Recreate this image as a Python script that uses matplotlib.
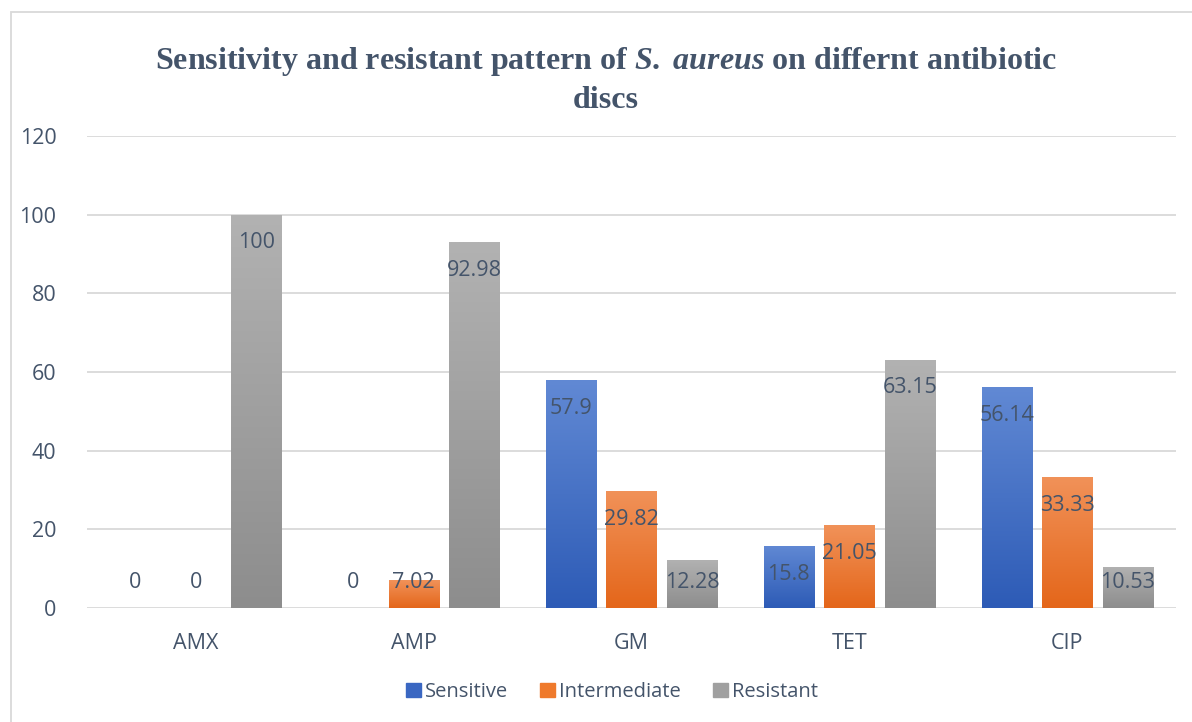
import numpy as np
import matplotlib
matplotlib.use("Agg")
import matplotlib.pyplot as plt
from matplotlib.patches import Rectangle
from matplotlib.colors import LinearSegmentedColormap

# Data: percentage of isolates per antibiotic disc
categories = ["AMX", "AMP", "GM", "TET", "CIP"]
sensitive = [0, 0, 57.9, 15.8, 56.14]
intermediate = [0, 7.02, 29.82, 21.05, 33.33]
resistant = [100, 92.98, 12.28, 63.15, 10.53]
series_names = ["Sensitive", "Intermediate", "Resistant"]
y_ticks = [0, 20, 40, 60, 80, 100, 120]

series = [sensitive, intermediate, resistant]
# (top colour, bottom colour) for the vertical gradient fill of each series
gradients = [("#6189d4", "#2d5bb6"), ("#f19259", "#e4661a"), ("#b2b2b2", "#8d8d8d")]
legend_colors = ["#3a67c2", "#ef7a2c", "#a0a0a0"]
text_color = "#44546a"

plt.rcParams["mathtext.fontset"] = "custom"
plt.rcParams["mathtext.it"] = "Liberation Serif:italic:bold"
plt.rcParams["mathtext.rm"] = "Liberation Serif:bold"

W, H = 1192, 722
fig = plt.figure(figsize=(W / 100, H / 100), dpi=100)

# light outer frame of the chart area
fig.patches.append(Rectangle((11 / W, -0.05), 1.2, (H - 12) / H + 0.05,
                             transform=fig.transFigure, fill=False,
                             edgecolor="#d9d9d9", linewidth=1.3))

ax = fig.add_axes([87 / W, 1 - 608 / H, (1176 - 87) / W, (608 - 136) / H])
ax.set_xlim(-0.5, len(categories) - 0.5)
ax.set_ylim(0, 120)
for s in ax.spines.values():
    s.set_visible(False)
ax.set_yticks(y_ticks)
ax.yaxis.grid(True, color="#d9d9d9", linewidth=1.3)
ax.set_axisbelow(True)
ax.tick_params(axis="both", length=0, labelsize=15.5, labelcolor=text_color)
ax.tick_params(axis="y", pad=22)
ax.tick_params(axis="x", pad=18)
ax.set_xticks(range(len(categories)))
ax.set_xticklabels(categories)
for lab in ax.get_xticklabels() + ax.get_yticklabels():
    lab.set_fontfamily("Open Sans")

x = np.arange(len(categories))
width = 0.23
step = 0.278
grad = np.linspace(0, 1, 256).reshape(-1, 1)

for i, (vals, (ctop, cbot)) in enumerate(zip(series, gradients)):
    cmap = LinearSegmentedColormap.from_list(f"g{i}", [cbot, ctop])
    pos = x + (i - 1) * step
    bars = ax.bar(pos, vals, width=width, color=cbot, linewidth=0,
                  label=series_names[i], zorder=2)
    for b, v in zip(bars, vals):
        if v > 0:
            x0 = b.get_x()
            im = ax.imshow(grad, extent=(x0, x0 + b.get_width(), 0, v),
                           origin="lower", cmap=cmap, aspect="auto",
                           interpolation="bilinear", zorder=3)
            im.set_clip_path(b)
        ly = max(v - 7.2, 6.4)
        ax.text(b.get_x() + b.get_width() / 2, ly, f"{v:g}",
                ha="center", va="center", fontsize=15.5, color=text_color,
                fontfamily="Open Sans", zorder=4)

ax.set_xlim(-0.5, len(categories) - 0.5)
ax.set_ylim(0, 120)

handles = [Rectangle((0, 0), 1, 1, color=c) for c in legend_colors]
leg = fig.legend(handles, series_names, loc="center", bbox_to_anchor=(612 / W, 1 - 692 / H),
                 ncol=3, frameon=False, handlelength=0.75, handleheight=0.75,
                 handletextpad=0.2, columnspacing=1.6,
                 prop={"family": "Open Sans", "size": 14.5})
for t in leg.get_texts():
    t.set_color(text_color)

fig.text(606 / W, 1 - 62 / H,
         r"Sensitivity and resistant pattern of $\mathit{S.}$ $\mathit{aureus}$ on differnt antibiotic",
         ha="center", va="center", fontsize=23, fontweight="bold",
         fontfamily="Liberation Serif", color=text_color)
fig.text(606 / W, 1 - 100 / H, "discs", ha="center", va="center", fontsize=23,
         fontweight="bold", fontfamily="Liberation Serif", color=text_color)

fig.savefig("out.png", dpi=100)
